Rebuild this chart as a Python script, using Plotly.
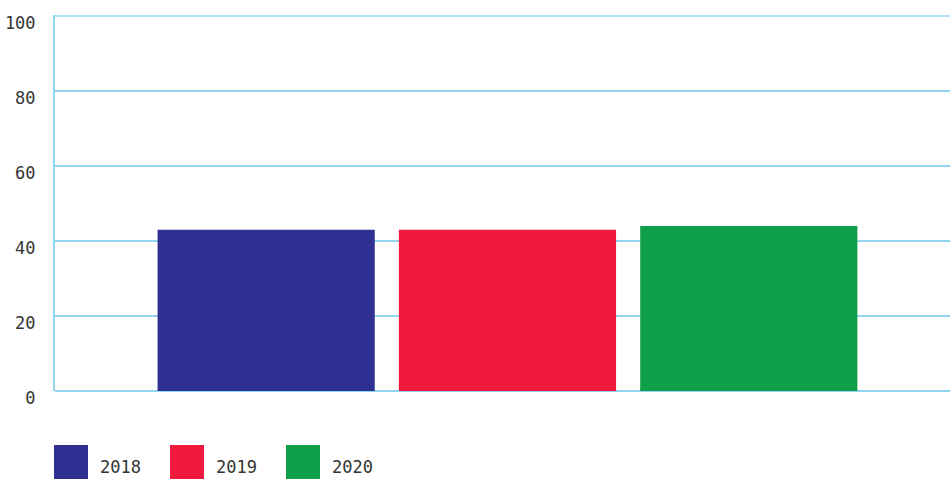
import plotly.graph_objects as go

years = ["2018", "2019", "2020"]
values = [43, 43, 44]
colors = ["#2e3192", "#ef1a3d", "#0f9f49"]
category = [""]
y_ticks = [0, 20, 40, 60, 80, 100]

W, H = 950, 479
ML, MR = 55, 0
plot_top, plot_bottom = 15, 391
MT = plot_top
MB = H - plot_bottom
pw = W - ML - MR
ph = H - MT - MB
Y_MAX = 100 * (plot_bottom - plot_top) / 375.0

def px_x(p):
    return (p - ML) / pw

def px_y(p):
    return (H - MB - p) / ph

FONT = "DejaVu Sans Mono"
TXT = "#333333"
GRID = "#92d5f0"

fig = go.Figure()
for yr, v, c in zip(years, values, colors):
    fig.add_trace(go.Bar(x=category, y=[v], name=yr, marker=dict(color=c, line=dict(width=0)),
                         showlegend=False, hoverinfo="skip"))

shapes = []
annotations = []
for i, (yr, c) in enumerate(zip(years, colors)):
    x0 = 54 + i * 116
    shapes.append(dict(type="rect", xref="paper", yref="paper",
                       x0=px_x(x0), x1=px_x(x0 + 34), y0=px_y(445), y1=px_y(480),
                       fillcolor=c, line=dict(width=0)))
    annotations.append(dict(xref="paper", yref="paper", x=px_x(x0 + 44), y=px_y(478.5),
                            xanchor="left", yanchor="bottom", text=yr, showarrow=False,
                            font=dict(family=FONT, size=17, color=TXT)))

shapes.append(dict(type="line", xref="paper", yref="y", x0=0, x1=1, y0=100, y1=100,
                   line=dict(color=GRID, width=1.5), layer="below"))

fig.update_layout(
    width=W, height=H,
    margin=dict(l=ML, r=MR, t=MT, b=MB, pad=0),
    paper_bgcolor="white", plot_bgcolor="white",
    barmode="group", bargap=0.2, bargroupgap=0.1,
    shapes=shapes, annotations=annotations,
    font=dict(family=FONT, size=17, color=TXT),
    xaxis=dict(type="category", range=[-0.5, 0.489], showticklabels=False,
               showgrid=False, zeroline=False, showline=False, ticks=""),
    yaxis=dict(range=[0, Y_MAX], tickvals=y_ticks, ticktext=[str(t) for t in y_ticks],
               showgrid=True, gridcolor=GRID, gridwidth=1.5,
               zeroline=True, zerolinecolor=GRID, zerolinewidth=2,
               showline=True, linecolor=GRID, linewidth=2,
               ticks="", ticklabelstandoff=14, ticklabelshift=7,
               tickfont=dict(family=FONT, size=17, color=TXT)),
)

fig.write_html("out.html", config={"displayModeBar": False},
               post_script="document.body.style.margin='0';document.body.style.overflow='hidden';")
